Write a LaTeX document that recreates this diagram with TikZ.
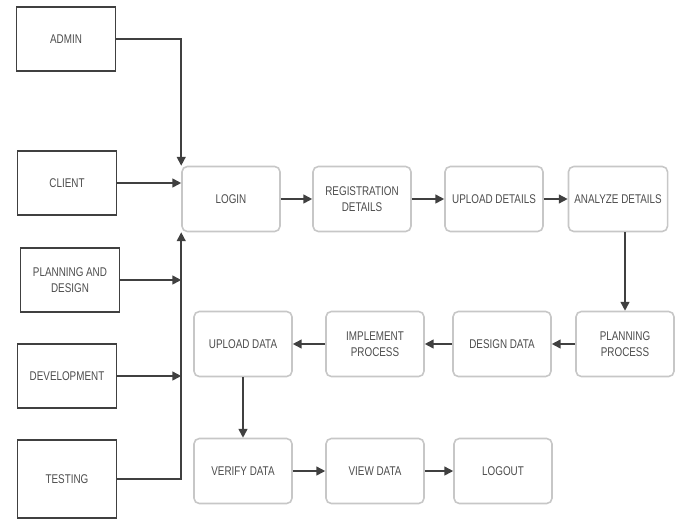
\documentclass[tikz,border=0pt]{standalone}
\usepackage{fontspec}
\setsansfont[FakeStretch=0.78]{Liberation Sans}
\usetikzlibrary{arrows.meta}

\begin{document}
\begin{tikzpicture}[x=0.02cm, y=-0.02cm,
    actor/.style={draw=black!75, line width=0.9pt, minimum width=1.98cm,
      minimum height=1.28cm, align=center, text=black!70,
      font=\sffamily\fontsize{7.2}{9}\selectfont},
    stage/.style={draw=black!22, rounded corners=3pt, line width=0.9pt,
      minimum width=1.96cm, minimum height=1.3cm, align=center, text=black!70,
      font=\sffamily\fontsize{7.2}{9}\selectfont},
    flow/.style={-{Triangle[length=5pt,width=5pt]}, draw=black!75, line width=0.9pt}]
  \useasboundingbox (0,0) rectangle (678,521);

  % Users and phases on the left
  \node [actor] (admin) at (66,39) {ADMIN};
  \node [actor] (client) at (67,183) {CLIENT};
  \node [actor] (plan) at (70,280) {PLANNING AND\\DESIGN};
  \node [actor] (devel) at (67,376) {DEVELOPMENT};
  \node [actor, minimum height=1.56cm] (testing) at (67,479) {TESTING};

  % Process steps
  \node [stage] (login) at (231,199) {LOGIN};
  \node [stage] (regdet) at (362,199) {REGISTRATION\\DETAILS};
  \node [stage] (upldet) at (494,199) {UPLOAD DETAILS};
  \node [stage] (anadet) at (618,199) {ANALYZE DETAILS};
  \node [stage] (planproc) at (625,344) {PLANNING\\PROCESS};
  \node [stage] (desdata) at (502,344) {DESIGN DATA};
  \node [stage] (implproc) at (375,344) {IMPLEMENT\\PROCESS};
  \node [stage] (upldata) at (243,344) {UPLOAD DATA};
  \node [stage] (verdata) at (243,471) {VERIFY DATA};
  \node [stage] (viewdata) at (375,471) {VIEW DATA};
  \node [stage] (logout) at (503,471) {LOGOUT};

  % Everyone goes through the login
  \draw [flow] (admin.east) -| (login.north west);
  \draw [flow] (client.east) -- (client.east -| login.west);
  \draw [flow] (plan.east) -- (plan.east -| login.west);
  \draw [flow] (devel.east) -- (devel.east -| login.west);
  \draw [flow] (testing.east) -| (login.south west);

  % Main flow
  \draw [flow] (login) -- (regdet);
  \draw [flow] (regdet) -- (upldet);
  \draw [flow] (upldet) -- (anadet);
  \draw [flow] (anadet.south -| planproc.north) -- (planproc.north);
  \draw [flow] (planproc) -- (desdata);
  \draw [flow] (desdata) -- (implproc);
  \draw [flow] (implproc) -- (upldata);
  \draw [flow] (upldata) -- (verdata);
  \draw [flow] (verdata) -- (viewdata);
  \draw [flow] (viewdata) -- (logout);

\end{tikzpicture}
\end{document}
